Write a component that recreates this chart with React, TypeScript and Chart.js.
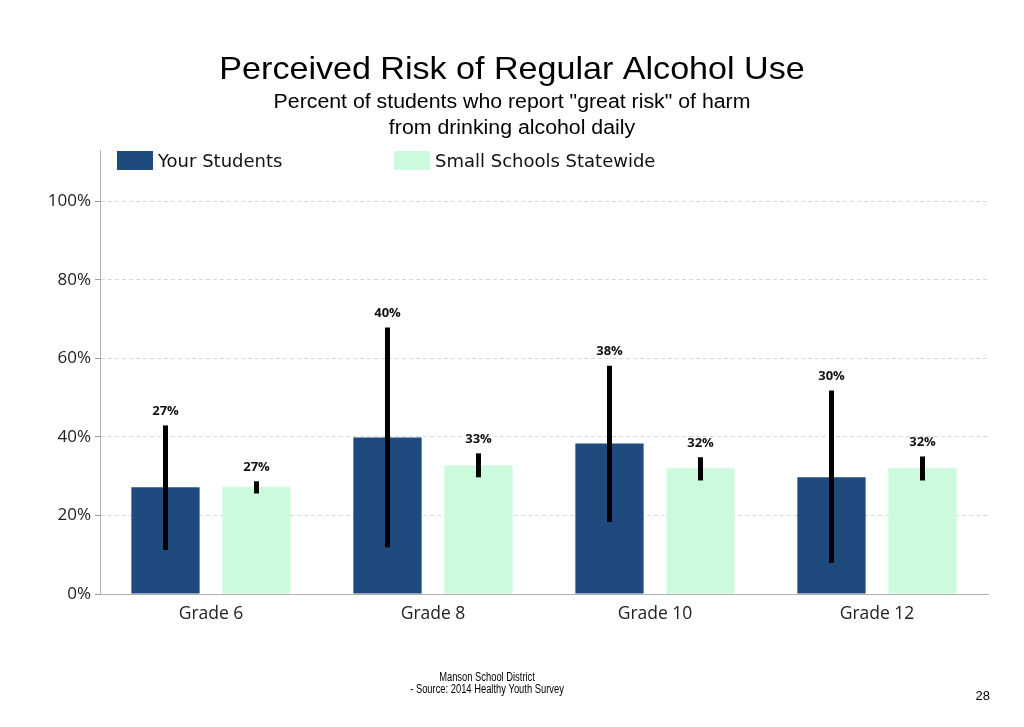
import React, { useEffect, useRef } from "react";
import { Chart, registerables } from "chart.js";

Chart.register(...registerables);

const categories = ["Grade 6", "Grade 8", "Grade 10", "Grade 12"];
const seriesNames = ["Your Students", "Small Schools Statewide"];
const yourStudents = [27.2, 39.8, 38.3, 29.7];
const yourLow = [11.2, 11.9, 18.3, 7.9];
const yourHigh = [42.9, 67.8, 58.1, 51.8];
const statewide = [27.3, 32.7, 32.0, 32.0];
const stateLow = [25.6, 29.7, 28.9, 28.9];
const stateHigh = [28.7, 35.8, 34.8, 35.0];
const yTicks = [0, 20, 40, 60, 80, 100];
const titleText = "Perceived Risk of Regular Alcohol Use";
const subtitleLines = [
  'Percent of students who report "great risk" of harm',
  "from drinking alcohol daily",
];
const footerLines = ["Manson School District", "- Source: 2014 Healthy Youth Survey"];
const pageNumber = "28";

const colors = ["#1f4a7e", "#ccfadc"];
const lows = [yourLow, stateLow];
const highs = [yourHigh, stateHigh];

function drawScaled(ctx: CanvasRenderingContext2D, text: string, cx: number, cy: number, sx: number) {
  ctx.save();
  ctx.translate(cx, cy);
  ctx.scale(sx, 1);
  ctx.fillText(text, 0, 0);
  ctx.restore();
}

const errorBarPlugin = {
  id: "errorBars",
  afterDatasetsDraw(chart: any) {
    const ctx = chart.ctx;
    const y = chart.scales.y;
    chart.data.datasets.forEach((ds: any, di: number) => {
      const meta = chart.getDatasetMeta(di);
      meta.data.forEach((el: any, i: number) => {
        const top = y.getPixelForValue(highs[di][i]);
        const bot = y.getPixelForValue(lows[di][i]);
        ctx.save();
        ctx.strokeStyle = "#000";
        ctx.lineWidth = 5;
        ctx.beginPath();
        ctx.moveTo(el.x, bot);
        ctx.lineTo(el.x, top);
        ctx.stroke();
        ctx.fillStyle = "#111";
        ctx.font = "bold 13px 'Open Sans'";
        ctx.textAlign = "center";
        ctx.textBaseline = "middle";
        ctx.fillText(Math.round(ds.data[i]) + "%", el.x, top - 14);
        ctx.restore();
      });
    });
  },
};

const decorPlugin = {
  id: "decor",
  afterDraw(chart: any) {
    const ctx = chart.ctx;
    const area = chart.chartArea;
    ctx.save();
    // title
    ctx.fillStyle = "#000";
    ctx.textAlign = "center";
    ctx.textBaseline = "middle";
    ctx.font = "32px 'Liberation Sans', Arial, sans-serif";
    drawScaled(ctx, titleText, 512, 70, 1.065);
    ctx.font = "20px 'Liberation Sans', Arial, sans-serif";
    subtitleLines.forEach((t, i) => drawScaled(ctx, t, 512, 102 + i * 26, 1.065));
    // legend
    const legendX = [area.left + 17, area.left + 294];
    chart.data.datasets.forEach((ds: any, i: number) => {
      ctx.fillStyle = colors[i];
      ctx.fillRect(legendX[i], 151, 36, 19);
      ctx.fillStyle = "#111";
      ctx.textAlign = "left";
      ctx.font = "18px 'DejaVu Sans', sans-serif";
      ctx.fillText(ds.label, legendX[i] + 41, 162);
    });
    // footer
    ctx.fillStyle = "#000";
    ctx.textAlign = "center";
    ctx.font = "12px 'Liberation Sans', Arial, sans-serif";
    footerLines.forEach((t, i) => drawScaled(ctx, t, 487, 678 + i * 12, 0.78));
    ctx.font = "13px 'Liberation Sans', Arial, sans-serif";
    ctx.textAlign = "right";
    ctx.fillText(pageNumber, 990, 696);
    ctx.restore();
  },
};

export default function App() {
  const ref = useRef<HTMLCanvasElement>(null);
  useEffect(() => {
    if (!ref.current) return;
    const chart = new Chart(ref.current, {
      type: "bar",
      data: {
        labels: categories,
        datasets: [
          { label: seriesNames[0], data: yourStudents, backgroundColor: colors[0] },
          { label: seriesNames[1], data: statewide, backgroundColor: colors[1] },
        ],
      },
      options: {
        animation: false,
        responsive: false,
        categoryPercentage: 0.82,
        barPercentage: 0.75,
        layout: { padding: { top: 150, right: 36, bottom: 0, left: 0 } },
        plugins: {
          legend: { display: false },
          title: { display: false },
          tooltip: { enabled: false },
        },
        scales: {
          x: {
            grid: { display: false, drawTicks: false },
            border: { display: true, color: "#b0b0b0", width: 1 },
            ticks: {
              color: "#222",
              font: { family: "'Open Sans'", size: 17.5 },
              padding: 10,
            },
            afterFit: (s: any) => {
              s.height = 133;
            },
          },
          y: {
            min: 0,
            max: 113,
            afterBuildTicks: (s: any) => {
              s.ticks = yTicks.map((v) => ({ value: v }));
            },
            grid: {
              color: "#d8d8d8",
              tickColor: "#999",
              tickLength: 5,
              lineWidth: 1,
            },
            border: { display: true, color: "#b0b0b0", width: 1, dash: [4, 3] },
            ticks: {
              color: "#222",
              font: { family: "'Open Sans'", size: 17 },
              padding: 4,
              callback: (v: any) => v + "%",
            },
            afterFit: (s: any) => {
              s.width = 100;
            },
          },
        },
      },
      plugins: [errorBarPlugin, decorPlugin],
    });
    return () => chart.destroy();
  }, []);
  return (
    <div style={{ position: "absolute", left: 0, top: 0, width: 1024, height: 727, background: "#fff" }}>
      <canvas ref={ref} width={1024} height={727} />
    </div>
  );
}
